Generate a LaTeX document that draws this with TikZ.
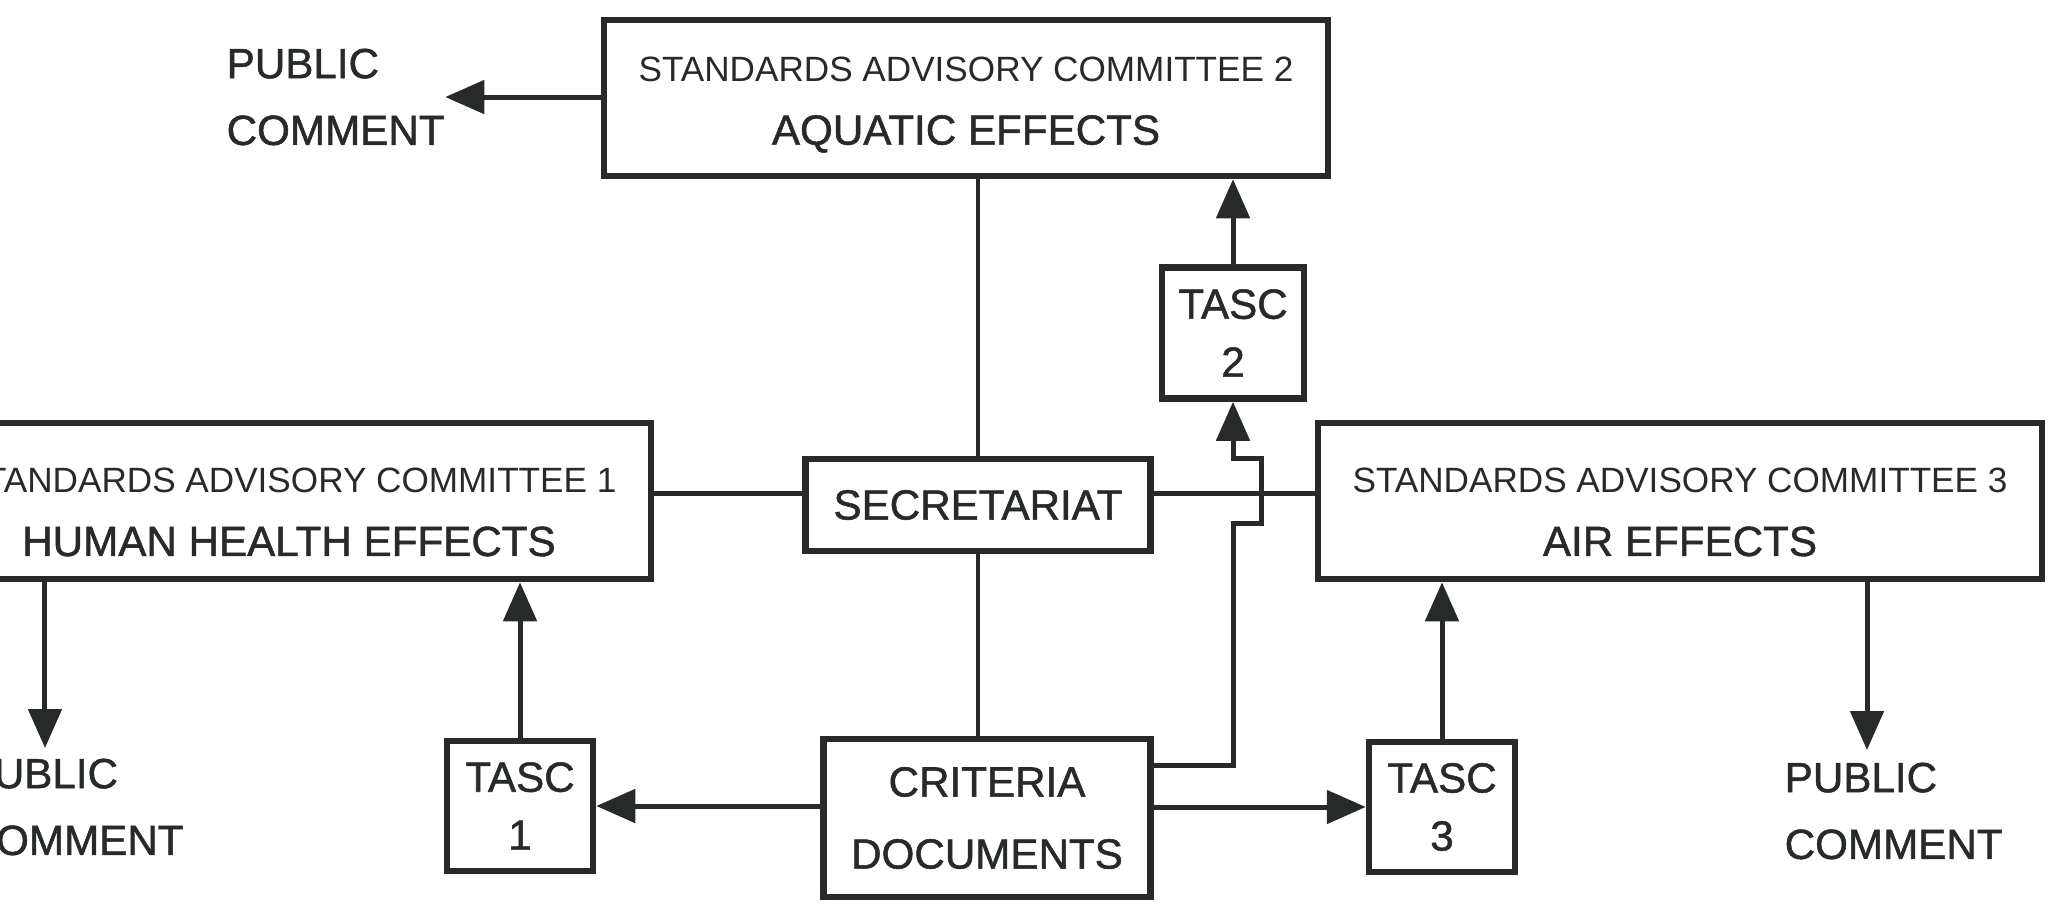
\documentclass[tikz,border=0pt]{standalone}
\usepackage{fontspec}
\setmainfont{Liberation Sans}
\newfontfamily\heavy{Liberation Sans}[FakeBold=1.2]
\usetikzlibrary{positioning,arrows.meta}
\definecolor{ink}{RGB}{38,42,40}
\tikzset{
  box/.style={draw=ink, line width=0.65mm, inner sep=0pt, align=center, text=ink},
  sac/.style={box, minimum width=72.4mm, minimum height=15.6mm, font=\heavy\fontsize{12}{18}\selectfont},
  lowtext/.style={text height=31.4pt},
  tasc/.style={box, minimum width=14.6mm, minimum height=13mm, font=\heavy\fontsize{12}{16.5}\selectfont},
  lbl/.style={align=left, inner sep=0pt, text=ink, font=\heavy\fontsize{12}{19}\selectfont},
  ln/.style={draw=ink, line width=0.5mm},
  thinln/.style={draw=ink, line width=0.33mm},
  arr/.style={ln, -{Triangle[length=3.9mm,width=3.3mm]}},
}
\newcommand{\topline}[1]{{\normalfont\fontsize{10}{18}\selectfont #1}}
\begin{document}
\begin{tikzpicture}[x=0.1mm, y=-0.1mm]
\useasboundingbox (0,0) rectangle (2059,905);
\clip (0,0) rectangle (2059,905);
\node[sac, text height=28.8pt] (sac2) at (966,98) {\topline{STANDARDS ADVISORY COMMITTEE 2}\\AQUATIC EFFECTS};
\node[sac, lowtext] (sac1) at (289,501) {\topline{STANDARDS ADVISORY COMMITTEE 1}\\HUMAN HEALTH EFFECTS};
\node[sac, lowtext] (sac3) at (1680,501) {\topline{STANDARDS ADVISORY COMMITTEE 3}\\AIR EFFECTS};
\node[box, minimum width=34.5mm, minimum height=9.2mm, font=\heavy\fontsize{12}{14}\selectfont] (secr) at (978,505) {SECRETARIAT};
\node[box, minimum width=32.7mm, minimum height=15.8mm, font=\heavy\fontsize{12}{20.5}\selectfont] (crit) at (987,818) {CRITERIA\\DOCUMENTS};
\node[tasc] (tasc1) at (520,806) {TASC\\1};
\node[tasc, minimum width=14.2mm, minimum height=13.1mm] (tasc2) at (1233,333) {TASC\\2};
\node[tasc] (tasc3) at (1442,807) {TASC\\3};
\node[lbl, anchor=north west] (pc2) at (226,48) {PUBLIC\\COMMENT};
\node[lbl, anchor=north west] (pc1) at (-35,758) {PUBLIC\\COMMENT};
\node[lbl, anchor=north west] (pc3) at (1784,762) {PUBLIC\\COMMENT};
\coordinate (sl) at ([yshift=1.2mm]secr.west);
\coordinate (sr) at ([yshift=1.2mm]secr.east);
\coordinate (cu) at ([yshift=5.3mm]crit.east);
\coordinate (hopb) at (1233,523);
\coordinate (hopt) at (1233,458);
\coordinate (t1) at ([xshift=8mm,yshift=1mm]pc1.north west);
\coordinate (t3) at ([xshift=8.3mm,yshift=1.2mm]pc3.north west);
\draw[thinln] (secr.north) -- (secr.north |- sac2.south);
\draw[thinln] (secr.south) -- (secr.south |- crit.north);
\draw[ln] (sl) -- (sl -| sac1.east);
\draw[ln] (sr) -- (sr -| sac3.west);
\draw[arr] (sac2.west |- pc2.east) -- (pc2.east);
\draw[arr] (t1 |- sac1.south) -- (t1);
\draw[arr] (t3 |- sac3.south) -- (t3);
\draw[arr] (crit.west |- tasc1.east) -- (tasc1.east);
\draw[arr] (crit.east |- tasc3.west) -- (tasc3.west);
\draw[arr] (tasc1.north) -- (tasc1.north |- sac1.south);
\draw[arr] (tasc3.north) -- (tasc3.north |- sac3.south);
\draw[arr] (tasc2.north) -- (tasc2.north |- sac2.south);
\draw[arr] (cu) -| (hopb) -- ++(28,0) |- (hopt) -- (tasc2.south);
\end{tikzpicture}
\end{document}
